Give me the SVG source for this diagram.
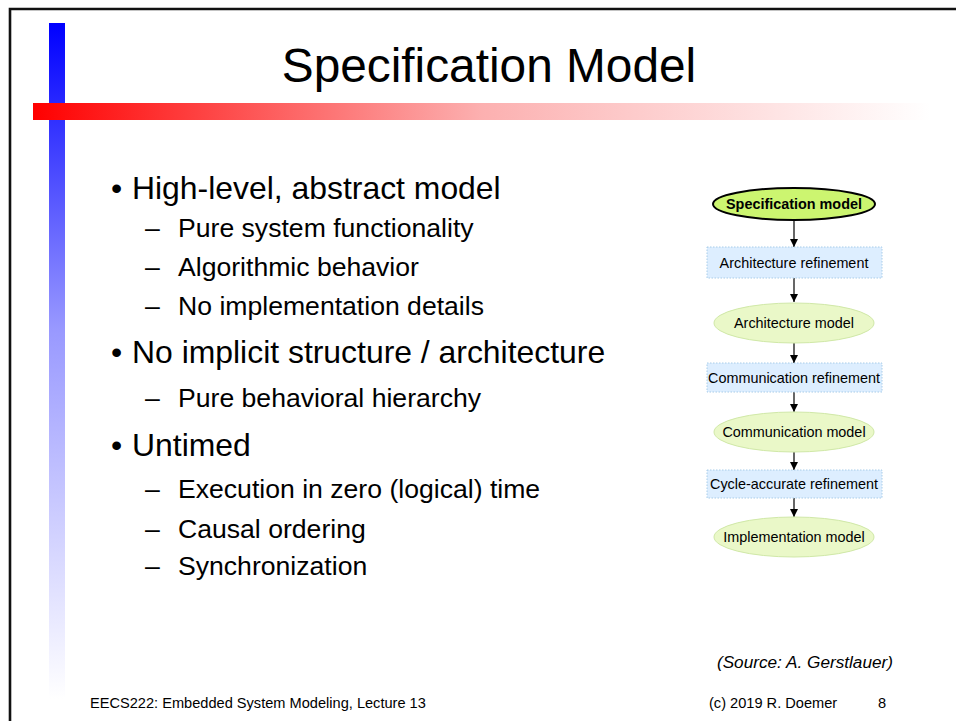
<svg xmlns="http://www.w3.org/2000/svg" width="956" height="721" viewBox="0 0 956 721">
  <defs>
    <linearGradient id="blueBar" x1="0" y1="0" x2="0" y2="1">
      <stop offset="0" stop-color="#0000ff"/>
      <stop offset="0.45" stop-color="#9898ff"/>
      <stop offset="1" stop-color="#ffffff"/>
    </linearGradient>
    <linearGradient id="redBar" x1="0" y1="0" x2="1" y2="0">
      <stop offset="0" stop-color="#ff0000"/>
      <stop offset="0.5" stop-color="#fcb0b0"/>
      <stop offset="1" stop-color="#ffffff"/>
    </linearGradient>
    <marker id="arrow" viewBox="0 0 10 10" refX="10" refY="5" markerWidth="8" markerHeight="9" markerUnits="userSpaceOnUse" orient="auto">
      <path d="M0,0 L10,5 L0,10 z" fill="#000"/>
    </marker>
    <style>
      .txt { font-family: "Liberation Sans", Arial, sans-serif; fill: #000; }
      .title { font-size: 47.8px; }
      .l1 { font-size: 31.9px; }
      .l2 { font-size: 26.6px; }
      .foot { font-size: 14.6px; }
      .src { font-size: 17.2px; font-style: italic; }
      .node { font-size: 14.4px; text-anchor: middle; }
      .step { fill: #ddeeff; stroke: #a8cce8; stroke-width: 1; stroke-dasharray: 1.5 1.5; }
      .model { fill: #eaf8c8; stroke: #d0e8a8; stroke-width: 1; }
      .conn { stroke: #000; stroke-width: 1.2; fill: none; marker-end: url(#arrow); }
    </style>
  </defs>

  <rect width="956" height="721" fill="#ffffff"/>

  <!-- slide frame -->
  <path d="M10,721 V9 H956" fill="none" stroke="#111" stroke-width="2.6"/>

  <!-- decorative bars -->
  <rect x="49" y="23" width="16" height="676" fill="url(#blueBar)"/>
  <rect x="33" y="103" width="897" height="17" fill="url(#redBar)"/>

  <!-- title -->
  <text class="txt title" x="489" y="82" text-anchor="middle">Specification Model</text>

  <!-- bullet list -->
  <g id="bullets">
    <text class="txt l1" x="111" y="199">•</text>
    <text class="txt l1" x="132" y="199">High-level, abstract model</text>
    <text class="txt l2" x="145" y="237">–</text>
    <text class="txt l2" x="178" y="237">Pure system functionality</text>
    <text class="txt l2" x="145" y="276">–</text>
    <text class="txt l2" x="178" y="276">Algorithmic behavior</text>
    <text class="txt l2" x="145" y="315">–</text>
    <text class="txt l2" x="178" y="315">No implementation details</text>
    <text class="txt l1" x="111" y="363">•</text>
    <text class="txt l1" x="132" y="363">No implicit structure / architecture</text>
    <text class="txt l2" x="145" y="407">–</text>
    <text class="txt l2" x="178" y="407">Pure behavioral hierarchy</text>
    <text class="txt l1" x="111" y="456">•</text>
    <text class="txt l1" x="132" y="456">Untimed</text>
    <text class="txt l2" x="145" y="498">–</text>
    <text class="txt l2" x="178" y="498">Execution in zero (logical) time</text>
    <text class="txt l2" x="145" y="538">–</text>
    <text class="txt l2" x="178" y="538">Causal ordering</text>
    <text class="txt l2" x="145" y="575">–</text>
    <text class="txt l2" x="178" y="575">Synchronization</text>
  </g>

  <!-- refinement flow connectors -->
  <g id="connectors">
    <line class="conn" x1="794" y1="220" x2="794" y2="247"/>
    <line class="conn" x1="794" y1="278" x2="794" y2="302"/>
    <line class="conn" x1="794" y1="343" x2="794" y2="363"/>
    <line class="conn" x1="794" y1="392" x2="794" y2="412"/>
    <line class="conn" x1="794" y1="452" x2="794" y2="470"/>
    <line class="conn" x1="794" y1="498" x2="794" y2="517"/>
  </g>

  <!-- refinement flow nodes -->
  <g id="spec-model">
    <ellipse cx="794" cy="204" rx="81" ry="16" fill="#ccf570" stroke="#000" stroke-width="2"/>
    <text class="txt node" x="794" y="209" font-weight="bold">Specification model</text>
  </g>
  <g id="arch-refinement">
    <rect class="step" x="707" y="247" width="175" height="31"/>
    <text class="txt node" x="794" y="268">Architecture refinement</text>
  </g>
  <g id="arch-model">
    <ellipse class="model" cx="794" cy="323" rx="80" ry="20"/>
    <text class="txt node" x="794" y="328">Architecture model</text>
  </g>
  <g id="comm-refinement">
    <rect class="step" x="707" y="363" width="175" height="29"/>
    <text class="txt node" x="794" y="383">Communication refinement</text>
  </g>
  <g id="comm-model">
    <ellipse class="model" cx="794" cy="432" rx="80" ry="20"/>
    <text class="txt node" x="794" y="437">Communication model</text>
  </g>
  <g id="cycle-refinement">
    <rect class="step" x="707" y="470" width="175" height="28"/>
    <text class="txt node" x="794" y="489">Cycle-accurate refinement</text>
  </g>
  <g id="impl-model">
    <ellipse class="model" cx="794" cy="537" rx="80" ry="20"/>
    <text class="txt node" x="794" y="542">Implementation model</text>
  </g>

  <!-- source note and footer -->
  <text class="txt src" x="893" y="668" text-anchor="end">(Source: A. Gerstlauer)</text>
  <text class="txt foot" x="90" y="708">EECS222: Embedded System Modeling, Lecture 13</text>
  <text class="txt foot" x="709" y="708">(c) 2019 R. Doemer</text>
  <text class="txt foot" x="886" y="708" text-anchor="end">8</text>
</svg>
